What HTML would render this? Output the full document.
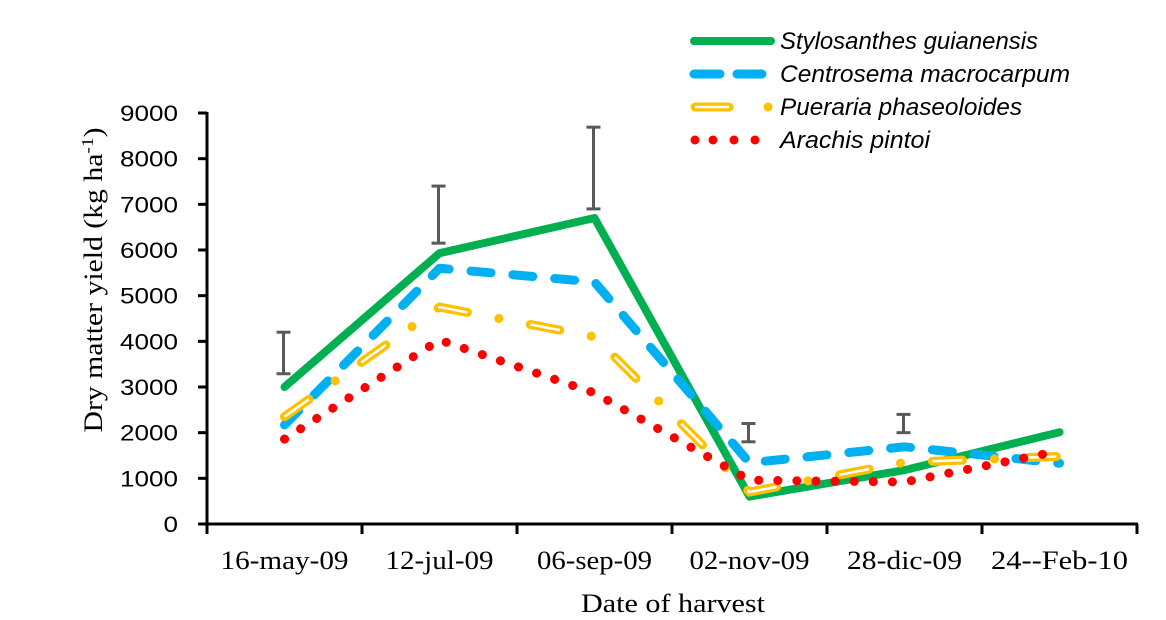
<!DOCTYPE html>
<html><head><meta charset="utf-8"><style>
html,body{margin:0;padding:0;background:#fff;}
svg{display:block;}
.tick{font-family:"Liberation Sans",sans-serif;font-size:22px;fill:#000;}
.xl{font-family:"Liberation Serif",serif;font-size:26px;fill:#000;}
.leg{font-family:"Liberation Sans",sans-serif;font-size:24px;font-style:italic;fill:#000;}
</style></head><body>
<svg id="chart" width="1166" height="620" xmlns="http://www.w3.org/2000/svg"></svg>
<script>
const categories=["16-may-09","12-jul-09","06-sep-09","02-nov-09","28-dic-09","24--Feb-10"];
const stylo=[3000,5930,6700,600,1180,2010];
const centro=[2170,5600,5300,1340,1690,1330];
const pueraria=[2350,4750,4100,700,1350,1480];
const arachis=[1860,4030,2870,960,920,1600];
const errLow=[3290,6150,6900,1800,2000];
const errHigh=[4200,7400,8690,2200,2400];
const yTicks=[0,1000,2000,3000,4000,5000,6000,7000,8000,9000];
const seriesNames=["Stylosanthes guianensis","Centrosema macrocarpum","Pueraria phaseoloides","Arachis pintoi"];

const NS="http://www.w3.org/2000/svg";
const svg=document.getElementById('chart');
const X0=207,BW=155,Y0=524,Y9=113;
const catW=[128,108,115,120,115,137];
const legW=[258,290,242,150];
function xs(i){return X0+BW*(i+0.5);}
function ys(v){return Y0-(v/9000)*(Y0-Y9);}
function mk(tag,attrs,parent){const e=document.createElementNS(NS,tag);for(const k in attrs)e.setAttribute(k,attrs[k]);(parent||svg).appendChild(e);return e;}

let ax=mk('line',{x1:X0,y1:Y9-1,x2:X0,y2:Y0+1,stroke:'#000','stroke-width':3});


let bx=mk('line',{x1:X0-9,y1:Y0,x2:X0+BW*6+1,y2:Y0,stroke:'#000','stroke-width':3});


yTicks.forEach(v=>{
  const t=mk('line',{x1:X0-9,y1:ys(v),x2:X0,y2:ys(v),stroke:'#000','stroke-width':3});
  
  
  const s=String(v);
  const l=mk('text',{x:178,y:ys(v)+8,'text-anchor':'end',class:'tick',textLength:14.5*s.length,lengthAdjust:'spacingAndGlyphs'});
  l.textContent=s;
  
  
});
for(let i=0;i<=categories.length;i++){
  const t=mk('line',{x1:X0+BW*i,y1:Y0,x2:X0+BW*i,y2:Y0+10,stroke:'#000','stroke-width':3});
  
  
}
categories.forEach((c,i)=>{
  const l=mk('text',{x:xs(i),y:569,'text-anchor':'middle',class:'xl',textLength:catW[i],lengthAdjust:'spacingAndGlyphs'});
  l.textContent=c;
  
  
});
let xt=mk('text',{x:673,y:612,'text-anchor':'middle',class:'xl',textLength:184,lengthAdjust:'spacingAndGlyphs'});
xt.textContent='Date of harvest';


let yt=mk('text',{x:0,y:0,'text-anchor':'middle',class:'xl',transform:'translate(102,280) rotate(-90)','font-size':'29',textLength:305,lengthAdjust:'spacingAndGlyphs'});
yt.innerHTML='Dry matter yield (kg ha<tspan baseline-shift="super" font-size="17">-1</tspan>)';



function pts(arr){return arr.map((v,i)=>xs(i)+','+ys(v)).join(' ');}
errLow.forEach((lo,i)=>{
  const g=mk('g',{stroke:'#595959','stroke-width':3});
  
  
  const x=xs(i)-1;
  mk('line',{x1:x,y1:ys(lo),x2:x,y2:ys(errHigh[i])},g);
  mk('line',{x1:x-7,y1:ys(lo),x2:x+7,y2:ys(lo)},g);
  mk('line',{x1:x-7,y1:ys(errHigh[i]),x2:x+7,y2:ys(errHigh[i])},g);
});
let s1=mk('polyline',{points:pts(stylo),fill:'none',stroke:'#00B050','stroke-width':8,'stroke-linejoin':'round','stroke-linecap':'round'});


let s2=mk('polyline',{points:pts(centro),fill:'none',stroke:'#00B0F0','stroke-width':9,'stroke-dasharray':'20 22','stroke-linecap':'round','stroke-linejoin':'round'});


const pd='30 32 0.1 32';
let s3=mk('g',{});


mk('polyline',{points:pts(pueraria),fill:'none',stroke:'#FFC000','stroke-width':9,'stroke-dasharray':pd,'stroke-linecap':'round'},s3);
mk('polyline',{points:pts(pueraria),fill:'none',stroke:'#fff','stroke-width':2.5,'stroke-dasharray':pd,'stroke-linecap':'butt'},s3);
let s4=mk('polyline',{points:pts(arachis),fill:'none',stroke:'#FF0000','stroke-width':9,'stroke-dasharray':'0.1 19','stroke-linecap':'round'});



const ly=[41,74,107,140];
const lg=mk('g',{});


function entry(i){
  const g=mk('g',{},lg);
  
  
  const y=ly[i];
  if(i===0) mk('line',{x1:694,y1:y,x2:771,y2:y,stroke:'#00B050','stroke-width':8,'stroke-linecap':'round'},g);
  if(i===1){mk('line',{x1:694,y1:y,x2:720,y2:y,stroke:'#00B0F0','stroke-width':9,'stroke-linecap':'round'},g);mk('line',{x1:737,y1:y,x2:762,y2:y,stroke:'#00B0F0','stroke-width':9,'stroke-linecap':'round'},g);}
  if(i===2){mk('line',{x1:695,y1:y,x2:729,y2:y,stroke:'#FFC000','stroke-width':9,'stroke-linecap':'round'},g);mk('line',{x1:695,y1:y,x2:729,y2:y,stroke:'#fff','stroke-width':2.5},g);mk('circle',{cx:768,cy:y,r:4.5,fill:'#FFC000'},g);}
  if(i===3){[695,713,734,755].forEach(x=>mk('circle',{cx:x,cy:y,r:4.5,fill:'#FF0000'},g));}
  const t=mk('text',{x:780,y:y+8,class:'leg',textLength:legW[i],lengthAdjust:'spacingAndGlyphs'},g);
  t.textContent=seriesNames[i];
}
for(let i=0;i<4;i++)entry(i);
</script>
</body></html>
